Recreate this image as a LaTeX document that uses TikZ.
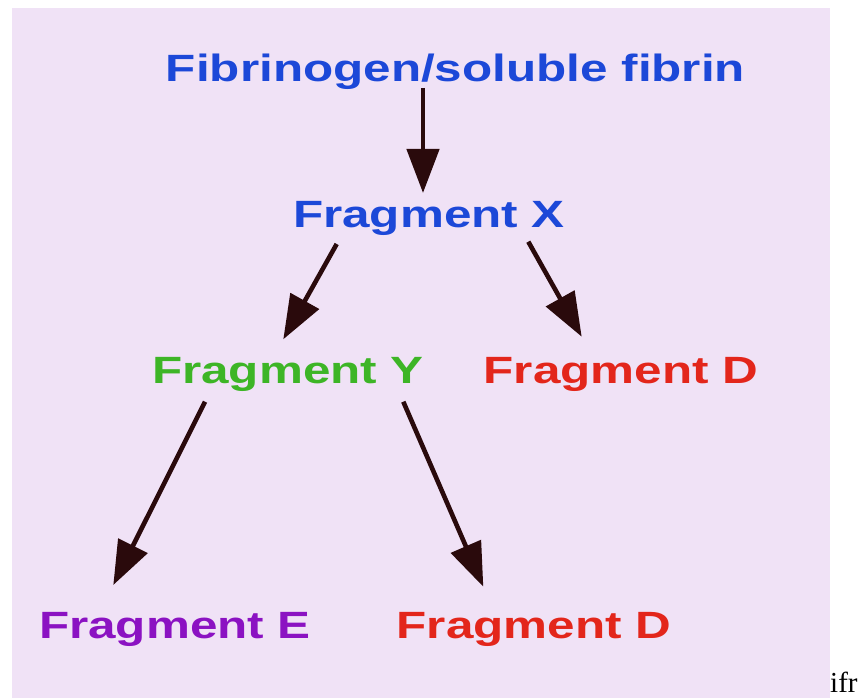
\documentclass[tikz,border=0pt]{standalone}
\usepackage{fontspec}
\setmainfont{Liberation Serif}
\newfontfamily\labelfont{Liberation Sans}
\usetikzlibrary{arrows.meta}

\definecolor{panel}{HTML}{F0E2F6}
\definecolor{cblue}{HTML}{1C48D8}
\definecolor{cgreen}{HTML}{3DB526}
\definecolor{cred}{HTML}{E3261B}
\definecolor{cpurple}{HTML}{8B12C2}
\definecolor{arrowdark}{HTML}{2A0A0C}

\newcommand{\fraglabel}[1]{\scalebox{1.3}[1]{\labelfont\bfseries\fontsize{38pt}{40pt}\selectfont #1}}

\tikzset{
  frag/.style={anchor=base, inner sep=0pt},
  flow/.style={draw=arrowdark, line width=4.6pt,
    -{Triangle[length=44pt,width=32pt]}}
}

\begin{document}
\begin{tikzpicture}[x=1pt,y=-1pt]
  \useasboundingbox (0,0) rectangle (865,698);
  \fill[panel] (12,8) rectangle (830,698);

  \node[frag, text=cblue]   (fib) at (455.5,82)  {\fraglabel{Fibrinogen/soluble fibrin}};
  \node[frag, text=cblue]   (fx)  at (429,227)   {\fraglabel{Fragment X}};
  \node[frag, text=cgreen]  (fy)  at (288,383)   {\fraglabel{Fragment Y}};
  \node[frag, text=cred]    (fd1) at (621,383)   {\fraglabel{Fragment D}};
  \node[frag, text=cpurple] (fe)  at (175,638)   {\fraglabel{Fragment E}};
  \node[frag, text=cred]    (fd2) at (534,638)   {\fraglabel{Fragment D}};

  \draw[flow] ([shift={(-32.5,6)}]fib.base) -- ([shift={(-6,-34)}]fx.base);
  \draw[flow] ([shift={(-92.3,17)}]fx.base) -- ([shift={(-4.7,-43.7)}]fy.base);
  \draw[flow] ([shift={(99.3,14.7)}]fx.base) -- ([shift={(-39.3,-46.3)}]fd1.base);
  \draw[flow] ([shift={(-83,18.7)}]fy.base) -- ([shift={(-61.7,-53)}]fe.base);
  \draw[flow] ([shift={(115.3,18.7)}]fy.base) -- ([shift={(-50.7,-51.3)}]fd2.base);

  \node[anchor=base west, inner sep=0pt, font=\fontsize{29pt}{31pt}\selectfont]
    (tail) at (830,692) {ifr};
\end{tikzpicture}
\end{document}
